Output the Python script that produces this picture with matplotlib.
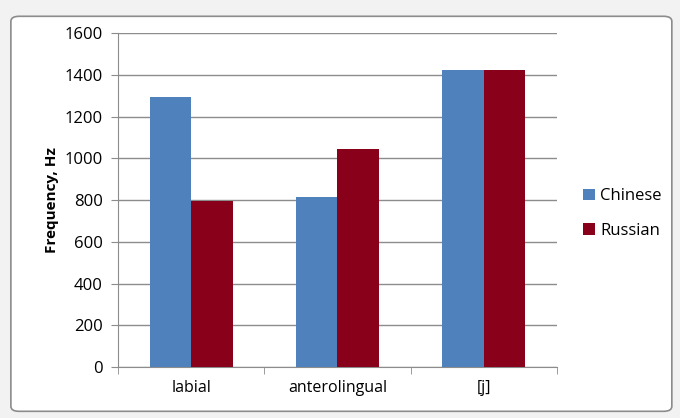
import numpy as np
import matplotlib
matplotlib.use("Agg")
import matplotlib.pyplot as plt
from matplotlib.patches import FancyBboxPatch

# data
categories = ["labial", "anterolingual", "[j]"]
chinese = [1295, 815, 1425]
russian = [795, 1045, 1425]
series_names = ["Chinese", "Russian"]
colors = ["#4F81BD", "#880019"]

plt.rcParams['font.family'] = ['Open Sans', 'DejaVu Sans']

fig = plt.figure(figsize=(6.8, 4.18), dpi=100)
fig.patch.set_facecolor("#f2f2f2")

# excel-like chart frame, kept behind the axes
frame = FancyBboxPatch((0.016, 0.016), 0.972, 0.945, boxstyle="round,pad=0,rounding_size=0.012",
                       transform=fig.transFigure, facecolor="white", edgecolor="#8c8c8c",
                       linewidth=1.2, zorder=-10)
fig.patches.append(frame)

ax = fig.add_axes([0.1735, 0.122, 0.6455, 0.799])
ax.set_facecolor("none")
ax.set_zorder(5)

x = np.arange(len(categories))
w = 0.284
ax.bar(x - w / 2, chinese, w, color=colors[0], label=series_names[0], zorder=3)
ax.bar(x + w / 2, russian, w, color=colors[1], label=series_names[1], zorder=3)

ax.set_xlim(-0.5, len(categories) - 0.5)
ax.set_ylim(0, 1600)
ax.set_yticks(range(0, 1601, 200))
ax.yaxis.grid(True, color="#8c8c8c", linewidth=1, zorder=0)
ax.set_xticks(x)
ax.set_xticklabels(categories, fontsize=11.5)
ax.set_xticks(np.arange(-0.5, len(categories), 1), minor=True)
ax.tick_params(axis="x", which="major", length=0, pad=9)
ax.tick_params(axis="x", which="minor", length=5, color="#8c8c8c", direction="out")
ax.tick_params(axis="y", length=5, color="#8c8c8c", labelsize=12, pad=6)

for s in ["top", "right"]:
    ax.spines[s].set_visible(False)
for s in ["left", "bottom"]:
    ax.spines[s].set_color("#8c8c8c")

ax.set_ylabel("Frequency, Hz", fontsize=11, fontweight="bold", labelpad=4)

leg = ax.legend(loc="center left", bbox_to_anchor=(1.045, 0.46), frameon=False, fontsize=12,
                handlelength=0.7, handleheight=0.7, handletextpad=0.3, labelspacing=1.1,
                borderaxespad=0)

fig.savefig("out.png", dpi=100, facecolor=fig.get_facecolor())
